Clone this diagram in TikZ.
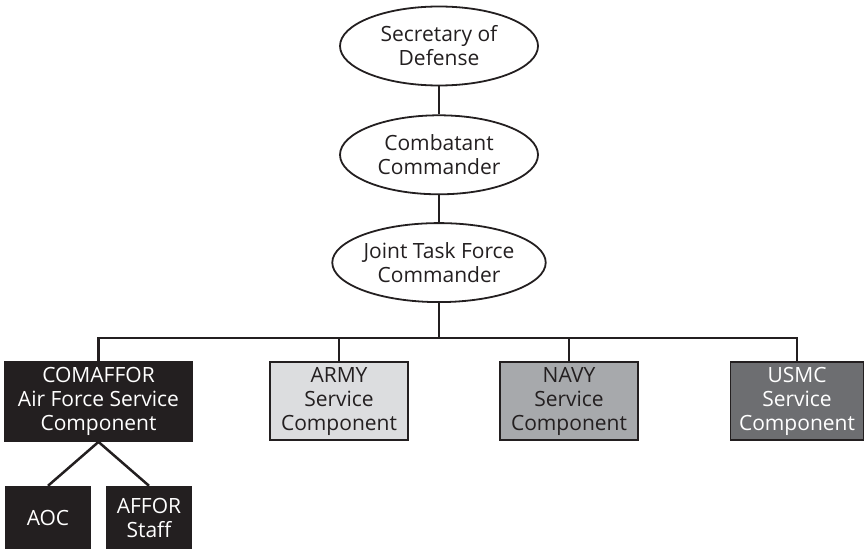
\documentclass[tikz,border=0pt]{standalone}
\usepackage{fontspec}
\setmainfont{Open Sans}
\usetikzlibrary{positioning, calc}
\usetikzlibrary{shapes.geometric}
\definecolor{colordark}{RGB}{35,31,32}
\definecolor{colorarmy}{RGB}{220,221,223}
\definecolor{colornavy}{RGB}{167,169,172}
\definecolor{colorusmc}{RGB}{109,110,113}

\begin{document}
\begin{tikzpicture}[
    x=1pt, y=1pt,
    office/.style={ellipse, draw=colordark, line width=1.8pt, minimum width=198pt, minimum height=79pt, inner sep=0pt, align=center, font=\fontsize{21}{24}\selectfont, text=colordark},
    service/.style={rectangle, draw=colordark, line width=1.8pt, minimum width=138pt, minimum height=78pt, inner sep=0pt, align=center, font=\fontsize{21}{24}\selectfont},
    unit/.style={rectangle, fill=colordark, minimum width=86pt, minimum height=64pt, inner sep=0pt, align=center, font=\fontsize{21}{24}\selectfont, text=white},
    link/.style={line width=2.5pt, color=colordark}
]
\useasboundingbox (0,0) rectangle (866,-548);

% chain of command
\node[office] (secdef) at (439,-46) {Secretary of\\Defense};
\node[office, below=28pt of secdef] (cocom) {Combatant\\Commander};
\node[office, below=27pt of cocom] (jtf) {Joint Task Force\\Commander};

% service components
\node[service, fill=colordark, text=white, minimum width=187pt, minimum height=79pt] (comaffor) at (98.5,-401.5) {COMAFFOR\\Air Force Service\\Component};
\node[service, fill=colorarmy, text=colordark] (army) at (339,-401) {ARMY\\Service\\Component};
\node[service, fill=colornavy, text=colordark] (navy) at (569,-401) {NAVY\\Service\\Component};
\node[service, fill=colorusmc, text=white, minimum width=133pt] (usmc) at (797,-401) {USMC\\Service\\Component};

% under COMAFFOR
\node[unit] (aoc) at (48,-518) {AOC};
\node[unit] (affor) at (149,-518) {AFFOR\\Staff};

% connectors
\draw[link] (secdef.south) -- (cocom.north);
\draw[link] (cocom.south) -- (jtf.north);
\coordinate[below=35pt of jtf.south] (bar);
\draw[link] (jtf.south) -- (bar);
\draw[link] (comaffor.north) |- (bar) -| (usmc.north);
\draw[link] (army.north) -- (army.north |- bar);
\draw[link] (navy.north) -- (navy.north |- bar);
\draw[link] (comaffor.south) -- (aoc.north);
\draw[link] (comaffor.south) -- (affor.north);

\end{tikzpicture}
\end{document}
